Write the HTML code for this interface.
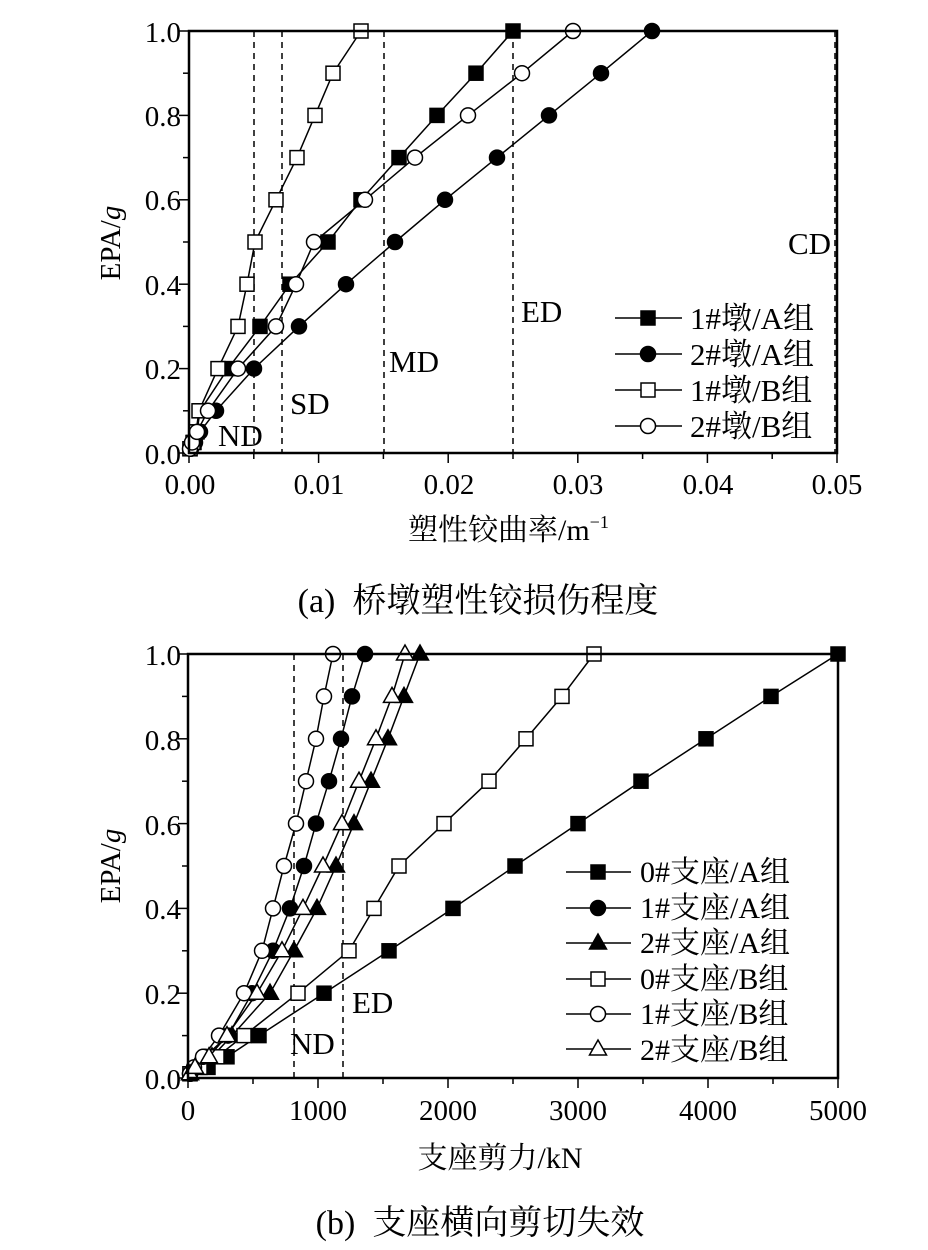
<!DOCTYPE html>
<html><head><meta charset="utf-8"><style>
body{margin:0;background:#fff}
svg{display:block}
text{font-family:"Liberation Serif","Noto Serif CJK SC",serif;fill:#000}
.pre{white-space:pre}
</style></head><body>
<svg id="s" width="928" height="1250" viewBox="0 0 928 1250" xmlns="http://www.w3.org/2000/svg">
<g id="g" stroke="#000" fill="none"></g>
<g font-size="29">
<text x="181" y="42" text-anchor="end">1.0</text>
<text x="181" y="126" text-anchor="end">0.8</text>
<text x="181" y="210" text-anchor="end">0.6</text>
<text x="181" y="295" text-anchor="end">0.4</text>
<text x="181" y="379" text-anchor="end">0.2</text>
<text x="181" y="464" text-anchor="end">0.0</text>
<text x="190" y="494" text-anchor="middle">0.00</text>
<text x="319" y="494" text-anchor="middle">0.01</text>
<text x="449" y="494" text-anchor="middle">0.02</text>
<text x="578" y="494" text-anchor="middle">0.03</text>
<text x="708" y="494" text-anchor="middle">0.04</text>
<text x="837" y="494" text-anchor="middle">0.05</text>
<text x="120" y="243" text-anchor="middle" transform="rotate(-90 120 243)">EPA/<tspan font-style="italic">g</tspan></text>
<text x="408" y="540" font-size="30">塑性铰曲率/m<tspan font-size="18" dy="-12">−1</tspan></text>
<text class="pre" x="478" y="612" text-anchor="middle" font-size="34">(a)  桥墩塑性铰损伤程度</text>
<g font-size="31">
<text x="218" y="446">ND</text>
<text x="290" y="414">SD</text>
<text x="389" y="372">MD</text>
<text x="521" y="322">ED</text>
<text x="788" y="254">CD</text>
</g>
<g font-size="31">
<text x="690" y="329">1#墩/A组</text>
<text x="690" y="365">2#墩/A组</text>
<text x="690" y="401">1#墩/B组</text>
<text x="690" y="437">2#墩/B组</text>
</g>
<text x="181" y="665" text-anchor="end">1.0</text>
<text x="181" y="750" text-anchor="end">0.8</text>
<text x="181" y="835" text-anchor="end">0.6</text>
<text x="181" y="919" text-anchor="end">0.4</text>
<text x="181" y="1004" text-anchor="end">0.2</text>
<text x="181" y="1089" text-anchor="end">0.0</text>
<text x="188" y="1120" text-anchor="middle">0</text>
<text x="318" y="1120" text-anchor="middle">1000</text>
<text x="448" y="1120" text-anchor="middle">2000</text>
<text x="578" y="1120" text-anchor="middle">3000</text>
<text x="708" y="1120" text-anchor="middle">4000</text>
<text x="838" y="1120" text-anchor="middle">5000</text>
<text x="120" y="866" text-anchor="middle" transform="rotate(-90 120 866)">EPA/<tspan font-style="italic">g</tspan></text>
<text x="500" y="1168" text-anchor="middle" font-size="30">支座剪力/kN</text>
<text class="pre" x="480" y="1234" text-anchor="middle" font-size="34">(b)  支座横向剪切失效</text>
<g font-size="31">
<text x="352" y="1013">ED</text>
<text x="290" y="1054">ND</text>
</g>
<g font-size="30">
<text x="640" y="882">0#支座/A组</text>
<text x="640" y="918">1#支座/A组</text>
<text x="640" y="953">2#支座/A组</text>
<text x="640" y="989">0#支座/B组</text>
<text x="640" y="1024">1#支座/B组</text>
<text x="640" y="1060">2#支座/B组</text>
</g>
</g>
</svg>
<script>
const g=document.getElementById('g');let h='';
function L(x1,y1,x2,y2,w,d){h+=`<line x1="${x1}" y1="${y1}" x2="${x2}" y2="${y2}" stroke-width="${w||1.5}" ${d?'stroke-dasharray="6,5"':''}/>`;}
function M(t,x,y){const f=t[0]=='f'?'#000':'#fff';
 if(t[1]=='s')h+=`<rect x="${x-7}" y="${y-7}" width="14" height="14" fill="${f}" stroke-width="1.5"/>`;
 else if(t[1]=='c')h+=`<circle cx="${x}" cy="${y}" r="7.5" fill="${f}" stroke-width="1.5"/>`;
 else h+=`<polygon points="${x},${y-9} ${x-8.5},${y+6} ${x+8.5},${y+6}" fill="${f}" stroke-width="1.5"/>`;}
function S(t,pts,yf){const P=pts.map(p=>[p[0],yf(p[1])]);
 h+=`<polyline points="${P.map(p=>p.join(',')).join(' ')}" stroke-width="1.5"/>`;P.forEach(p=>M(t,p[0],p[1]));}
const X0=189,X1=837,T0=31,B0=453;const y1=v=>B0-422*v;
for(let i=0;i<=10;i++){const x=X0+i*64.8;L(x,B0,x,B0+(i%2?6:10),1.5);}
for(let i=0;i<=10;i++){const y=B0-i*42.2;L(X0,y,X0-(i%2?6:10),y,1.5);}
[254,282,384,513].forEach(x=>L(x,T0,x,B0,1.5,1));
L(835,T0,835,B0,1.5,1);
S('fs',[[190,0.01],[194,0.025],[197,0.05],[200,0.1],[228,0.2],[260,0.3],[290,0.4],[328,0.5],[361,0.6],[399,0.7],[437,0.8],[476,0.9],[513,1]],y1);
S('fc',[[191,0.01],[195,0.025],[200,0.05],[216,0.1],[254,0.2],[299,0.3],[346,0.4],[395,0.5],[445,0.6],[497,0.7],[549,0.8],[601,0.9],[652,1]],y1);
S('os',[[190,0.01],[193,0.025],[196,0.05],[199,0.1],[218,0.2],[238,0.3],[247,0.4],[255,0.5],[276,0.6],[297,0.7],[315,0.8],[333,0.9],[361,1]],y1);
S('oc',[[190,0.01],[192,0.025],[197,0.05],[208,0.1],[238,0.2],[276,0.3],[296,0.4],[314,0.5],[365,0.6],[415,0.7],[468,0.8],[522,0.9],[573,1]],y1);
h+=`<rect x="${X0}" y="${T0}" width="${X1-X0}" height="${B0-T0}" stroke-width="2.5"/>`;
[['fs',318],['fc',354],['os',390],['oc',426]].forEach(a=>{L(615,a[1],682,a[1]);M(a[0],648,a[1]);});
const x0=188,x1=838,t0=654,b0=1078;const y2=v=>b0-424*v;
for(let i=0;i<=10;i++){const x=x0+i*65;L(x,b0,x,b0+(i%2?6:10),1.5);}
for(let i=0;i<=10;i++){const y=b0-i*42.4;L(x0,y,x0-(i%2?6:10),y,1.5);}
[294,343].forEach(x=>L(x,t0,x,b0,1.5,1));
S('fs',[[190,0.01],[208,0.025],[227,0.05],[259,0.1],[324,0.2],[389,0.3],[453,0.4],[515,0.5],[578,0.6],[641,0.7],[706,0.8],[771,0.9],[838,1]],y2);
S('fc',[[190,0.01],[196,0.025],[205,0.05],[228,0.1],[252,0.2],[273,0.3],[290,0.4],[304,0.5],[316,0.6],[329,0.7],[341,0.8],[352,0.9],[365,1]],y2);
S('ft',[[190,0.01],[198,0.025],[212,0.05],[232,0.1],[270,0.2],[294,0.3],[317,0.4],[336,0.5],[354,0.6],[371,0.7],[388,0.8],[404,0.9],[420,1]],y2);
S('os',[[190,0.01],[200,0.025],[217,0.05],[244,0.1],[298,0.2],[349,0.3],[374,0.4],[399,0.5],[444,0.6],[489,0.7],[526,0.8],[562,0.9],[594,1]],y2);
S('oc',[[190,0.01],[194,0.025],[203,0.05],[219,0.1],[244,0.2],[262,0.3],[273,0.4],[284,0.5],[296,0.6],[306,0.7],[316,0.8],[324,0.9],[333,1]],y2);
S('ot',[[190,0.01],[195,0.025],[209,0.05],[227,0.1],[257,0.2],[282,0.3],[303,0.4],[323,0.5],[342,0.6],[359,0.7],[376,0.8],[392,0.9],[405,1]],y2);
h+=`<rect x="${x0}" y="${t0}" width="${x1-x0}" height="${b0-t0}" stroke-width="2.5"/>`;
[['fs',872],['fc',908],['ft',943],['os',979],['oc',1014],['ot',1049]].forEach(a=>{L(566,a[1],631,a[1]);M(a[0],598,a[1]);});
g.innerHTML=h;
</script>
</body></html>
